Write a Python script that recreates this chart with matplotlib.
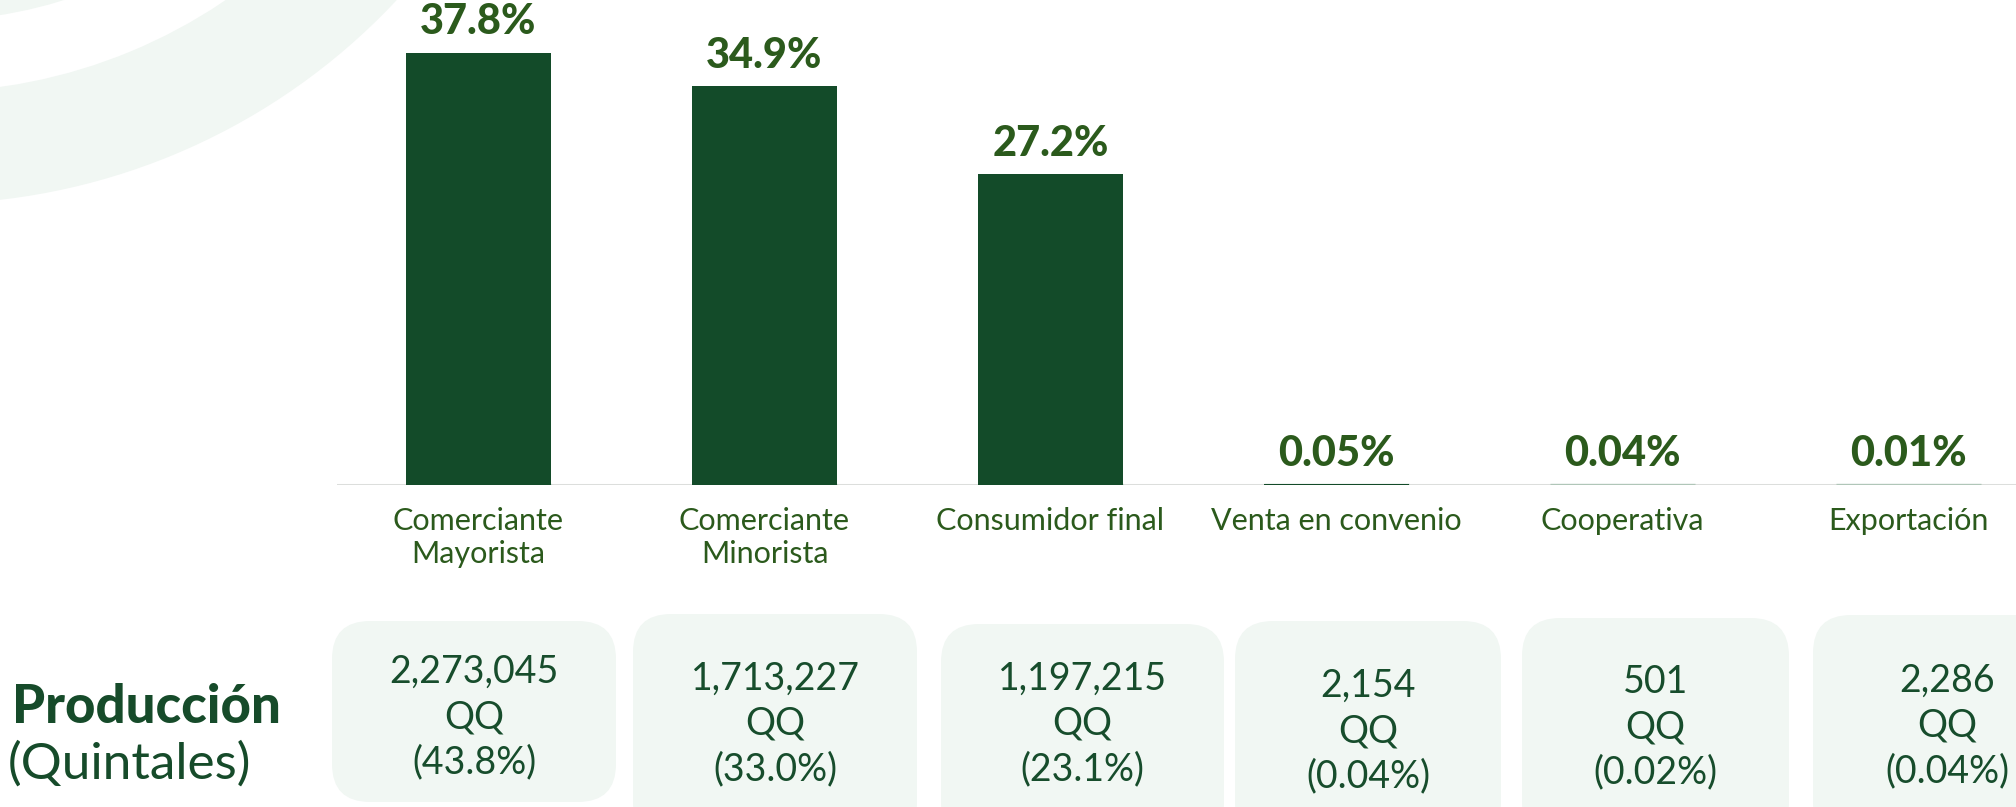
import matplotlib.pyplot as plt
from matplotlib.patches import FancyBboxPatch, Wedge

# canales de comercializacion: participacion (%) y produccion en quintales
categorias = ["Comerciante\nMayorista", "Comerciante\nMinorista", "Consumidor final",
              "Venta en convenio", "Cooperativa", "Exportación"]
participacion = [37.8, 34.9, 27.2, 0.05, 0.04, 0.01]
produccion_qq = [2273045, 1713227, 1197215, 2154, 501, 2286]
produccion_pct = ["43.8%", "33.0%", "23.1%", "0.04%", "0.02%", "0.04%"]

W, H = 2016, 807
VERDE = "#134b29"
OLIVA = "#2b5a1c"
TEXTO = "#174d2c"
MENTA = "#f1f7f3"

plt.rcParams["font.family"] = ["Lato", "DejaVu Sans"]

fig = plt.figure(figsize=(W / 100, H / 100), dpi=100)

# fondo en pixeles: arcos decorativos y tarjetas de produccion
bg = fig.add_axes([0, 0, 1, 1])
bg.set_xlim(0, W)
bg.set_ylim(H, 0)
bg.axis("off")

centro = (-73, -439)
bg.add_patch(Wedge(centro, 643, 0, 360, width=112, facecolor=MENTA, edgecolor="none"))
bg.add_patch(Wedge(centro, 460, 0, 360, width=112, facecolor=MENTA, edgecolor="none"))

tarjetas = [(332, 616, 621, 802), (633, 917, 614, 840), (941, 1224, 624, 840),
            (1235, 1501, 621, 840), (1522, 1789, 618, 840), (1813, 2081, 615, 840)]
primera_linea = [683, 690, 690, 697, 693, 692]

for (x0, x1, y0, y1), b, qq, pct in zip(tarjetas, primera_linea, produccion_qq, produccion_pct):
    bg.add_patch(FancyBboxPatch((x0, y0), x1 - x0, y1 - y0,
                                boxstyle="round,pad=0,rounding_size=38",
                                facecolor=MENTA, edgecolor="none"))
    cx = (x0 + x1) / 2
    for k, linea in enumerate([f"{qq:,}", "QQ", f"({pct})"]):
        bg.text(cx, b + 45 * k, linea, ha="center", va="baseline",
                fontsize=27, color=TEXTO)

bg.text(12, 723, "Producción", ha="left", va="baseline", fontsize=38,
        fontweight="black", color="#164b2a")
bg.text(8, 779, "(Quintales)", ha="left", va="baseline", fontsize=37, color="#164b2a")

# barras
base = 485
px_por_pct = 11.43
ax = fig.add_axes([337 / W, 1 - base / H, 1 - 337 / W, base / H])
ax.patch.set_alpha(0)
x = list(range(len(categorias)))
ancho = 145 / 286
ax.set_xlim((337 - 478.5) / 286, (W - 478.5) / 286)
ax.set_ylim(0, base / px_por_pct)

ax.axhline(0, color="#dcdedc", lw=2.2, zorder=1)
# franja clara en la base de cada barra
ax.hlines([0] * len(x), [i - ancho / 2 for i in x], [i + ancho / 2 for i in x],
          color="#b0c6b8", lw=2.4, zorder=1.5)
ax.bar(x, participacion, width=ancho, color=VERDE, edgecolor="none", zorder=2)

for i, v in zip(x, participacion):
    ax.annotate(f"{v:g}%", xy=(i, v), xytext=(0, 22), textcoords="offset points",
                ha="center", va="center", fontsize=30, fontweight="black", color=OLIVA)
    ax.annotate(categorias[i], xy=(i, 0), xytext=(0, -16), textcoords="offset points",
                ha="center", va="top", fontsize=22, color=OLIVA, linespacing=1.2,
                annotation_clip=False)

ax.axis("off")

fig.savefig("out.png", dpi=100)
